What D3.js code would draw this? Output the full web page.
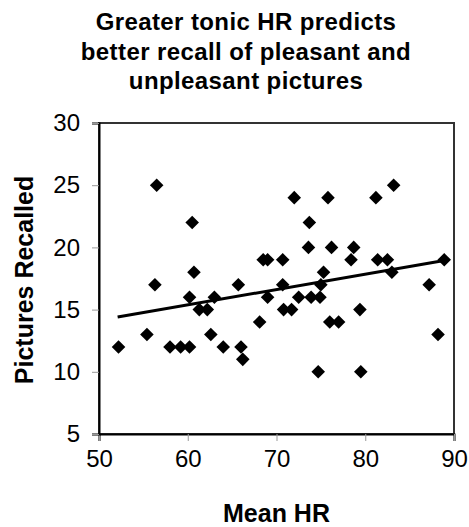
<!DOCTYPE html>
<html>
<head>
<meta charset="utf-8">
<script src="https://cdn.jsdelivr.net/npm/d3@7"></script>
<style>
  body { margin: 0; background: #fff; }
  text { font-family: "Liberation Sans", Arial, sans-serif; fill: #000; }
</style>
</head>
<body>
<div class="chart"></div>
<script>
// Data
const titleLines = ["Greater tonic HR predicts", "better recall of pleasant and", "unpleasant pictures"];
const xTicks = [50, 60, 70, 80, 90];
const yTicks = [5, 10, 15, 20, 25, 30];
const meanHR = [52.2, 55.4, 56.3, 56.5, 58.0, 59.2, 60.2, 60.2, 60.5, 60.7,
                61.3, 62.2, 62.6, 63.0, 64.0, 65.7, 66.0, 66.2, 68.1, 68.5,
                69.0, 69.0, 70.7, 70.7, 70.8, 71.7, 72.0, 72.5, 73.6, 73.7,
                73.9, 74.7, 74.9, 75.0, 75.3, 75.8, 76.0, 76.2, 77.0, 78.4,
                78.7, 79.4, 79.5, 81.2, 81.4, 82.5, 83.0, 83.2, 87.2, 88.2, 88.9];
const recalled = [12, 13, 17, 25, 12, 12, 12, 16, 22, 18,
                  15, 15, 13, 16, 12, 17, 12, 11, 14, 19,
                  19, 16, 19, 17, 15, 15, 24, 16, 20, 22,
                  16, 10, 16, 17, 18, 24, 14, 20, 14, 19,
                  20, 15, 10, 24, 19, 19, 18, 25, 17, 13, 19];
// trend line end points
const trendX = [52.1, 88.9];
const trendY = [14.4, 18.95];

const width = 469, height = 527;
const margin = { top: 123, right: 15, bottom: 93, left: 99 };

const svg = d3.select(".chart")
    .append("svg")
    .attr("width", width)
    .attr("height", height);

const xScale = d3.scaleLinear().domain([50, 90]).range([margin.left, width - margin.right]);
const yScale = d3.scaleLinear().domain([5, 30]).range([height - margin.bottom, margin.top]);

// Title
svg.append("text")
    .attr("x", 246)
    .attr("y", 30)
    .attr("text-anchor", "middle")
    .attr("font-size", 24)
    .attr("font-weight", "bold")
    .attr("letter-spacing", 0.4)
    .selectAll("tspan")
    .data(titleLines)
    .enter()
    .append("tspan")
    .attr("x", 246)
    .attr("dy", (d, i) => i === 0 ? 0 : 29.5)
    .text(d => d);

// Plot frame (top/right)
svg.append("rect")
    .attr("x", xScale(50))
    .attr("y", yScale(30))
    .attr("width", xScale(90) - xScale(50))
    .attr("height", yScale(5) - yScale(30))
    .attr("fill", "none")
    .attr("stroke", "#333")
    .attr("stroke-width", 2);

// Axes
const xAxis = svg.append("g")
    .attr("transform", `translate(0, ${yScale(5)})`)
    .call(d3.axisBottom(xScale).tickValues(xTicks).tickSize(7).tickPadding(9));

const yAxis = svg.append("g")
    .attr("transform", `translate(${xScale(50)}, 0)`)
    .call(d3.axisLeft(yScale).tickValues(yTicks).tickSize(7).tickPadding(12));

[xAxis, yAxis].forEach(g => {
    g.select(".domain").attr("stroke", "#000").attr("stroke-width", 2);
    g.selectAll(".tick line").attr("stroke", "#999").attr("stroke-width", 1);
    g.selectAll(".tick text")
        .attr("font-size", 24)
        .attr("font-family", "Liberation Sans, Arial, sans-serif")
        .attr("fill", "#000");
});

// Axis labels
svg.append("text")
    .attr("x", (xScale(50) + xScale(90)) / 2)
    .attr("y", 522)
    .attr("text-anchor", "middle")
    .attr("font-size", 25)
    .attr("font-weight", "bold")
    .text("Mean HR");

svg.append("text")
    .attr("transform", "rotate(-90)")
    .attr("x", -280)
    .attr("y", 33)
    .attr("text-anchor", "middle")
    .attr("font-size", 25)
    .attr("font-weight", "bold")
    .text("Pictures Recalled");

// Trend line
const line = d3.line()
    .x(d => xScale(d[0]))
    .y(d => yScale(d[1]));

svg.append("path")
    .datum(trendX.map((x, i) => [x, trendY[i]]))
    .attr("fill", "none")
    .attr("stroke", "#000")
    .attr("stroke-width", 3)
    .attr("d", line);

// Points (diamonds)
const diamond = d3.symbol().type(d3.symbolSquare).size(92);
svg.selectAll(".pt")
    .data(meanHR.map((x, i) => [x, recalled[i]]))
    .enter()
    .append("path")
    .attr("class", "pt")
    .attr("d", diamond)
    .attr("fill", "#000")
    .attr("transform", d => `translate(${xScale(d[0])}, ${yScale(d[1])}) rotate(45)`);
</script>
</body>
</html>
